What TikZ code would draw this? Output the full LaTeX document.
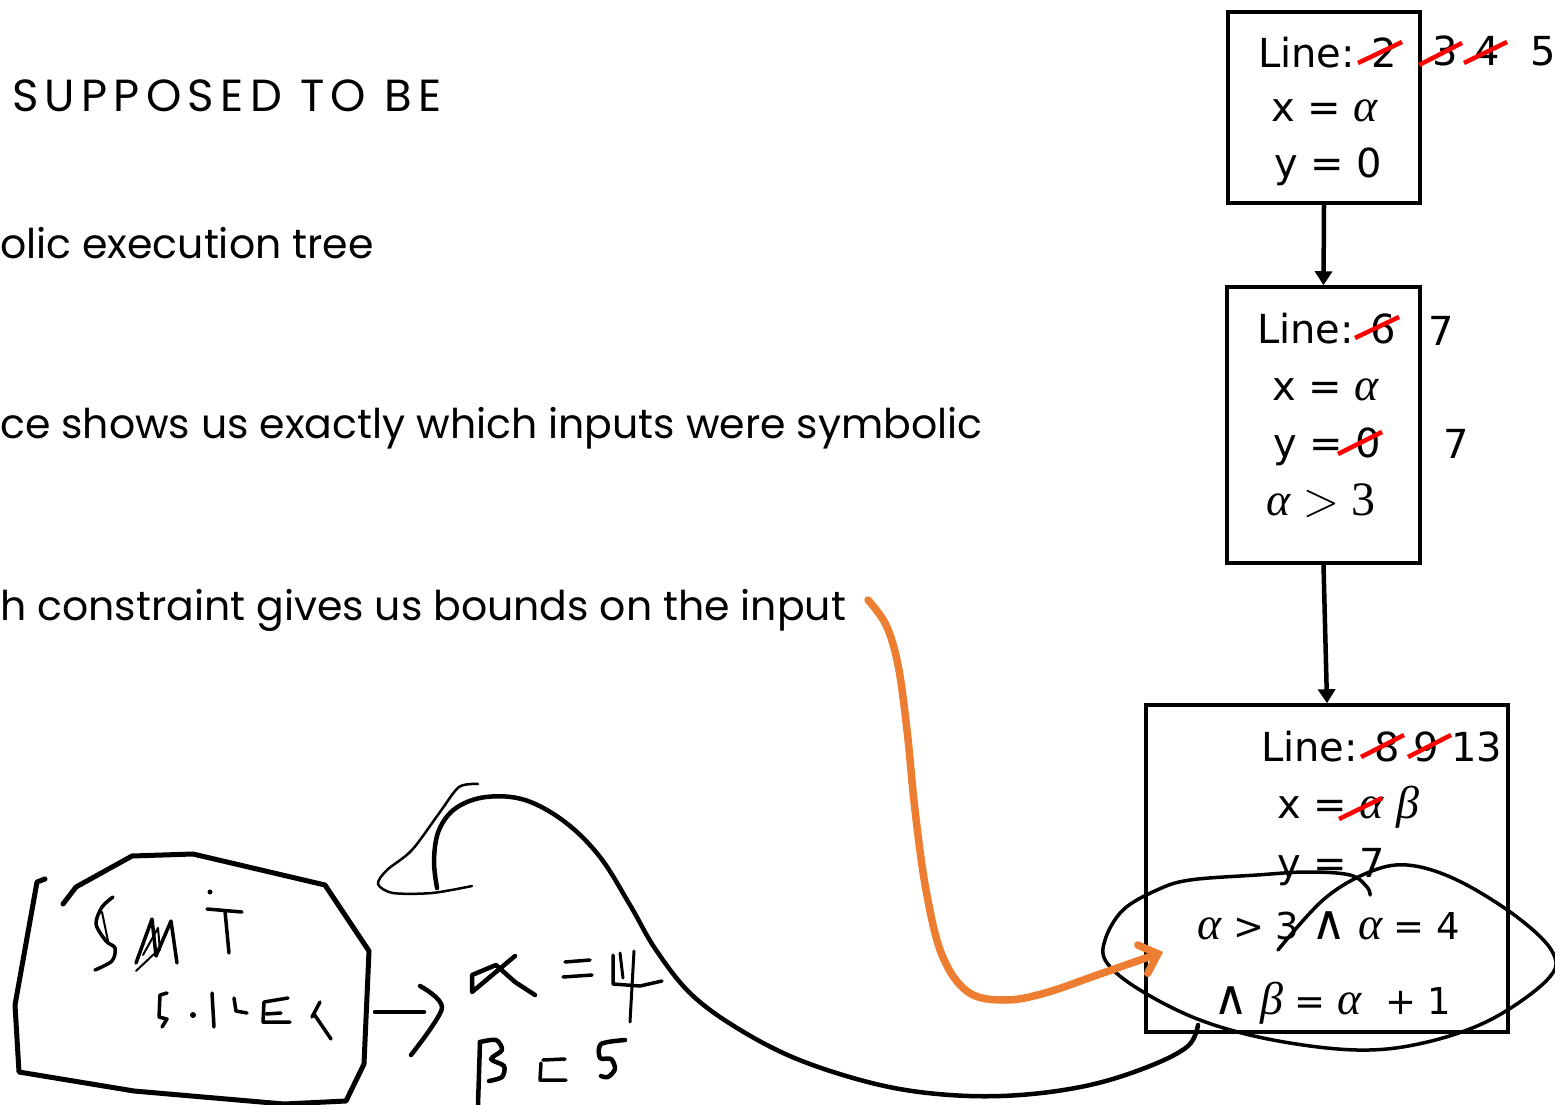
\documentclass[tikz,border=0pt]{standalone}
\usepackage{fontspec}
\usepackage{unicode-math}
\setmainfont{Poppins}
\setmathfont{Latin Modern Math}
\newfontfamily\boxfont{DejaVu Sans}
\newfontfamily\greekit{Liberation Serif}
\usetikzlibrary{arrows.meta}
\definecolor{callout}{RGB}{237,125,49}

\newcommand{\conj}{{\fontsize{48}{48}\selectfont ∧}}
\newcommand{\sal}{{\greekit\itshape\fontsize{46}{48}\selectfont α}}
\newcommand{\sbe}{{\greekit\itshape\fontsize{46}{48}\selectfont β}}

\tikzset{
  slide/.style={anchor=base west, inner sep=0pt, font=\fontsize{41}{50}\selectfont},
  entry/.style={anchor=base west, inner sep=0pt, font=\boxfont\fontsize{40}{48}\selectfont},
  tight/.style={font=\boxfont\fontsize{37}{48}\selectfont},
  treebox/.style={draw, line width=3.5pt},
  flow/.style={line width=4.5pt, -{Triangle[length=14pt,width=17pt]}},
  strike/.style={red, line width=4.5pt},
  hand/.style={line width=4.5pt, line cap=round, line join=round},
  pointer/.style={draw=callout, line width=7.5pt, line cap=round,
    -{Straight Barb[length=16pt,width=30pt,line cap=round]}}
}

\begin{document}
\begin{tikzpicture}[x=1pt,y=-1pt]
\useasboundingbox (0,0) rectangle (1555,1105);

%slide text
\node[slide, font=\fontsize{45}{52}\selectfont\addfontfeature{LetterSpace=14}] (title) at (12,112) {SUPPOSED TO BE};
\node[slide] (pt1) at (0,258) {olic execution tree};
\node[slide] (pt2) at (0,438) {ce shows us exactly which inputs were symbolic};
\node[slide] (pt3) at (0,620) {h constraint gives us bounds on the input};

%execution tree
\node[treebox, minimum width=192pt, minimum height=191pt] (s1) at (1324,107.5) {};
\node[treebox, minimum width=193pt, minimum height=276pt] (s2) at (1323.5,425) {};
\node[treebox, minimum width=362pt, minimum height=327pt] (s3) at (1327,868.5) {};
\draw[flow] (s1.south) -- (s2.north);
\draw[flow] (s2.south) -- (s3.north);

%state 1
\node[entry] (s1l) at (1258,68) {Line: 2};
\node[entry] (s1x) at (1271,122) {x = \sal};
\node[entry] (s1y) at (1274,177) {y = 0};
\node[entry] (s1a) at (1432,66) {3};
\node[entry] (s1b) at (1474,66) {4};
\node[entry] (s1c) at (1530,66) {5};
\draw[strike] (1358,63) -- (1402,42);
\draw[strike] (1419,65) -- (1462,43);
\draw[strike] (1464,63) -- (1507,42);

%state 2
\node[entry] (s2l) at (1257,343) {Line: 6};
\node[entry] (s2x) at (1272,400) {x = \sal};
\node[entry] (s2y) at (1273,457) {y = 0};
\node[entry] (s2c) at (1266,515) {\sal{} {\fontsize{46}{48}\selectfont$>$} {\greekit\fontsize{48}{48}\selectfont 3}};
\node[entry] (s2a) at (1428,345) {7};
\node[entry] (s2b) at (1443,458) {7};
\draw[strike] (1355,338) -- (1399,317);
\draw[strike] (1338,454) -- (1382,432);

%state 3
\node[entry] (s3l) at (1261,761) {Line: 8 9 13};
\node[entry] (s3x) at (1277,818) {x = \sal{} \sbe};
\node[entry] (s3y) at (1277,877) {y = 7};
\node[entry, tight] (s3c) at (1197,939) {\sal{} > 3 \conj{} \sal{} = 4};
\node[entry, tight] (s3d) at (1213,1014) {\conj{} \sbe{} = \sal~~+ 1};
\draw[strike] (1361,757) -- (1404,735);
\draw[strike] (1408,757) -- (1451,735);
\draw[strike] (1339,819) -- (1382,798);

%loop round the path condition
\draw[hand, line width=3.5pt] plot[smooth, tension=0.6] coordinates {(1278,950) (1323,900) (1367,873) (1407,865) (1457,880) (1517,917) (1553,953) (1547,980) (1490,1020) (1423,1043) (1357,1050) (1273,1040) (1200,1020) (1140,990) (1107,963) (1105,940) (1123,910) (1157,890) (1190,880) (1257,875) (1307,872) (1350,875) (1367,887) (1370,895)};

%pointer from the text
\draw[pointer] plot[smooth, tension=0.6] coordinates {(868,600) (886,625) (898,665) (907,730) (915,810) (926,890) (942,955) (968,992) (1005,1000) (1045,993) (1100,974) (1163,952)};

%smt solver box
\draw[hand, line width=5pt] (45,879) -- (37,882) -- (15,1005) -- (19,1072) -- (134,1091) -- (284,1104) -- (346,1101) -- (364,1064) -- (369,951) -- (325,885) -- (193,854) -- (132,856) -- (76,887) -- (63,904);
% S
\draw[hand, line width=3.5pt] plot[smooth] coordinates {(113,897) (102,907) (96,924) (106,941) (115,948) (112,961) (95,970)};
\draw[hand, line width=2pt] (102,912) -- (108,941);
% M
\draw[hand, line width=3.5pt] (136,963) -- (152,919) -- (156,956) -- (171,921) -- (177,963);
\draw[hand, line width=2pt] (136,971) -- (154,954);
\draw[hand, line width=2pt] (143,955) -- (158,928) -- (160,950);
% i and T
\fill (210,892) circle (2.5pt);
\draw[hand, line width=3.5pt] (207,909) -- (242,912);
\draw[hand, line width=3.5pt] (225,911) -- (229,953);
% solver
\draw[hand, line width=3.5pt] (167,993) -- (160,995) -- (159,1017) -- (167,1019) -- (162,1027);
\fill (193,1015) circle (3pt);
\draw[hand, line width=3.5pt] (212,993) -- (214,1027);
\draw[hand, line width=3.5pt] (234,998) -- (236,1011) -- (247,1013);
\draw[hand, line width=3.5pt] (288,998) -- (264,1002) -- (263,1022) -- (290,1022);
\draw[hand, line width=3.5pt] (266,1014) -- (281,1013);
\draw[hand, line width=3.5pt] (320,1002) -- (312,1017);
\draw[hand, line width=3.5pt] (314,1014) -- (331,1039);

% arrow to the model
\draw[hand] (375,1012) -- (424,1012);
\draw[hand] plot[smooth] coordinates {(420,986) (442,1008) (411,1055)};

% alpha = 4
\draw[hand] (515,956) -- (472,992) -- (472,975) -- (496,965) -- (515,982) -- (535,995);
\draw[hand, line width=3.5pt] (565,962) -- (590,960);
\draw[hand, line width=3.5pt] (563,977) -- (592,975);
\draw[hand, line width=3.5pt] (613,955) -- (613,984) -- (640,986) -- (662,981);
\draw[hand, line width=3pt] (620,953) -- (623,978);
\draw[hand, line width=3pt] (634,951) -- (630,1022);

% beta = 5
\draw[hand] (480,1042) -- (478,1105);
\draw[hand] plot[smooth] coordinates {(480,1042) (496,1040) (502,1050) (491,1059) (504,1066) (502,1077) (489,1081)};
\draw[hand, line width=3.5pt] (543,1060) -- (565,1059);
\draw[hand, line width=3.5pt] (541,1063) -- (540,1080) -- (566,1080);
\draw[hand] plot[smooth] coordinates {(625,1040) (601,1044) (600,1058) (611,1059) (615,1069) (608,1077) (601,1076)};

% hook and long stroke to the final state
\draw[hand, line width=2.5pt] plot[smooth] coordinates {(478,784) (459,787) (440,812) (412,850) (387,870) (378,884) (393,893) (432,893) (472,886)};
\draw[hand] plot[smooth, tension=0.6] coordinates {(437,888) (434,860) (439,830) (456,808) (486,797) (525,800) (565,822) (600,857) (630,905) (656,950) (692,995) (742,1031) (802,1061) (880,1085) (950,1095) (1020,1095) (1090,1085) (1150,1066) (1188,1046) (1198,1025)};
\end{tikzpicture}
\end{document}
